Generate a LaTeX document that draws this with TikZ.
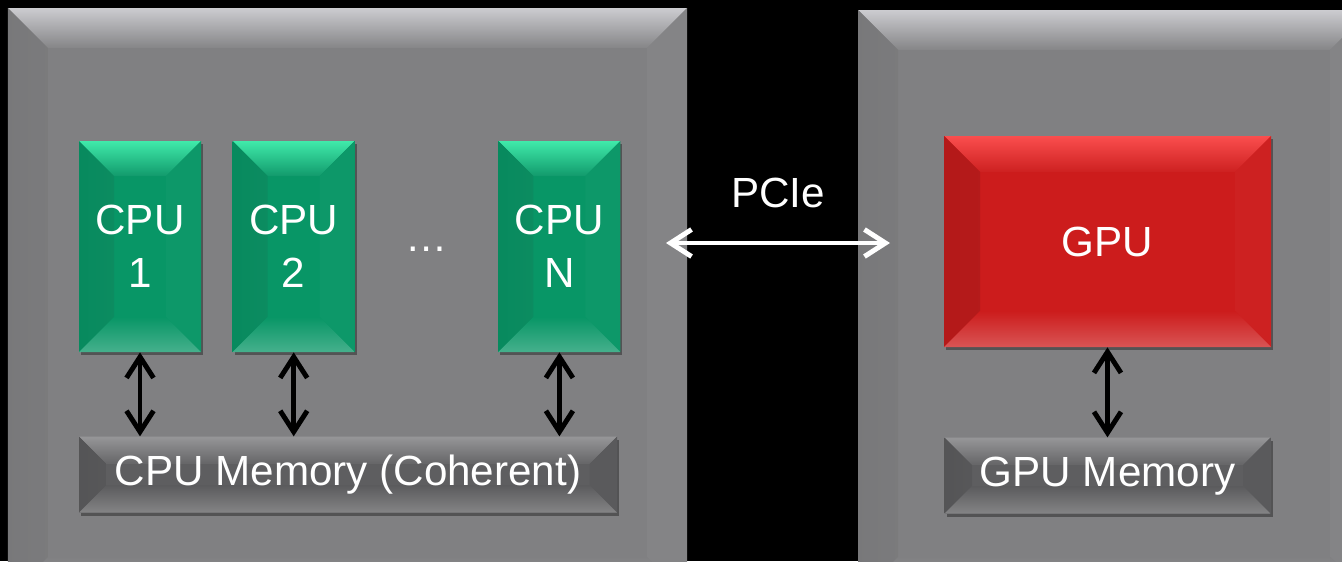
\documentclass[tikz,border=0pt]{standalone}
\usepackage{fontspec}
\setmainfont{Liberation Sans}
\usepackage{tikz}
\usetikzlibrary{positioning}
\usetikzlibrary{calc}
\usetikzlibrary{arrows.meta}
\usetikzlibrary{shadows}

\definecolor{panelgray}{RGB}{128,128,130}
\definecolor{panellight}{RGB}{204,204,208}
\definecolor{cpugreen}{RGB}{8,150,102}
\definecolor{cpulight}{RGB}{64,234,170}
\definecolor{gpured}{RGB}{204,28,28}
\definecolor{gpulight}{RGB}{250,78,78}
\definecolor{memgray}{RGB}{94,94,96}
\definecolor{memlight}{RGB}{150,150,152}

\tikzset{
    bevel/.style n args={6}{path picture={
        \path (path picture bounding box.north west) coordinate (bw1)
              (path picture bounding box.north east) coordinate (bw2)
              (path picture bounding box.south east) coordinate (bw3)
              (path picture bounding box.south west) coordinate (bw4);
        \shade[top color=#2, bottom color=#3]
            (bw1) -- (bw2) -- ($(bw2)+(-#1,-#1)$) -- ($(bw1)+(#1,-#1)$) -- cycle;
        \shade[left color=#4, right color=#3!50!#4]
            (bw1) -- ($(bw1)+(#1,-#1)$) -- ($(bw4)+(#1,#1)$) -- (bw4) -- cycle;
        \fill[#5] (bw2) -- (bw3) -- ($(bw3)+(-#1,#1)$) -- ($(bw2)+(-#1,-#1)$) -- cycle;
        \shade[top color=#6, bottom color=#6!75!white]
            (bw4) -- ($(bw4)+(#1,#1)$) -- ($(bw3)+(-#1,#1)$) -- (bw3) -- cycle;
    }},
    boxshadow/.style={drop shadow={shadow xshift=0.04cm, shadow yshift=-0.06cm, opacity=0.35, fill=black}},
    panel/.style={fill=panelgray, inner sep=0,
        bevel={0.8cm}{panellight}{panelgray!96!white}{panelgray!94!black}{panelgray!97!white}{panelgray}},
    cpubox/.style={fill=cpugreen, text=white, align=center, boxshadow,
        minimum width=2.44cm, minimum height=4.22cm,
        font=\fontsize{24}{30}\selectfont,
        bevel={0.7cm}{cpulight}{cpugreen!96!white}{cpugreen!92!black}{cpugreen!98!white}{cpugreen}},
    gpubox/.style={fill=gpured, text=white, boxshadow,
        minimum width=6.54cm, minimum height=4.22cm,
        font=\fontsize{24}{30}\selectfont,
        bevel={0.72cm}{gpulight}{gpured!98!white}{gpured!88!black}{gpured!98!white}{gpured}},
    membox/.style={fill=memgray, text=white, boxshadow,
        minimum height=1.52cm,
        font=\fontsize{24}{30}\selectfont,
        bevel={0.55cm}{memlight}{memgray!96!white}{memgray!90!black}{memgray!96!black}{memgray!97!black}},
    lbl/.style={text=white, font=\fontsize{24}{30}\selectfont},
    biarrow/.style={{Straight Barb[length=4.2mm,width=5.4mm]}-{Straight Barb[length=4.2mm,width=5.4mm]},
        line width=2.8pt, line cap=round, line join=round},
}

\begin{document}
\begin{tikzpicture}
    \fill[black] (0,0) rectangle (26.84,-11.22);
    \useasboundingbox (0,0) rectangle (26.84,-11.22);
    \clip (0,0) rectangle (26.84,-11.22);

    % host and device
    \node[panel, minimum width=13.58cm, minimum height=11.78cm] (host) at (6.95,-6.05) {};
    \node[panel, minimum width=10.24cm, minimum height=11.74cm] (device) at (22.28,-6.07) {};

    % CPU cores
    \node[cpubox] (cpu1) at (2.80,-4.93) {CPU\\1};
    \node[cpubox, right=0.62cm of cpu1] (cpu2) {CPU\\2};
    \node[cpubox, right=2.86cm of cpu2] (cpuN) {CPU\\N};
    \node[lbl, yshift=-0.06cm] (dots) at ($(cpu2.east)!0.5!(cpuN.west)$) {…};

    \node[membox, minimum width=10.76cm, anchor=north west] (cpumem)
        at ($(cpu1.south west)+(0,-1.68)$) {CPU Memory (Coherent)};

    % GPU
    \node[gpubox] (gpu) at (22.15,-4.83) {GPU};
    \node[membox, minimum width=6.52cm, below=1.8cm of gpu] (gpumem) {GPU Memory};

    \draw[biarrow] (cpu1.south) -- (cpu1.south |- cpumem.north);
    \draw[biarrow] (cpu2.south) -- (cpu2.south |- cpumem.north);
    \draw[biarrow] (cpuN.south) -- (cpuN.south |- cpumem.north);
    \draw[biarrow] (gpu.south) -- (gpumem.north);

    % PCIe link
    \coordinate (pcieL) at (13.32,-4.86);
    \coordinate (pcieR) at (17.80,-4.86);
    \coordinate (pcieM) at ($(pcieL)!0.5!(pcieR)$);
    \draw[biarrow, white] (pcieL) -- (pcieR);
    \node[lbl, inner sep=0, above=0.7cm of pcieM] (pcie) {PCIe};
\end{tikzpicture}
\end{document}
